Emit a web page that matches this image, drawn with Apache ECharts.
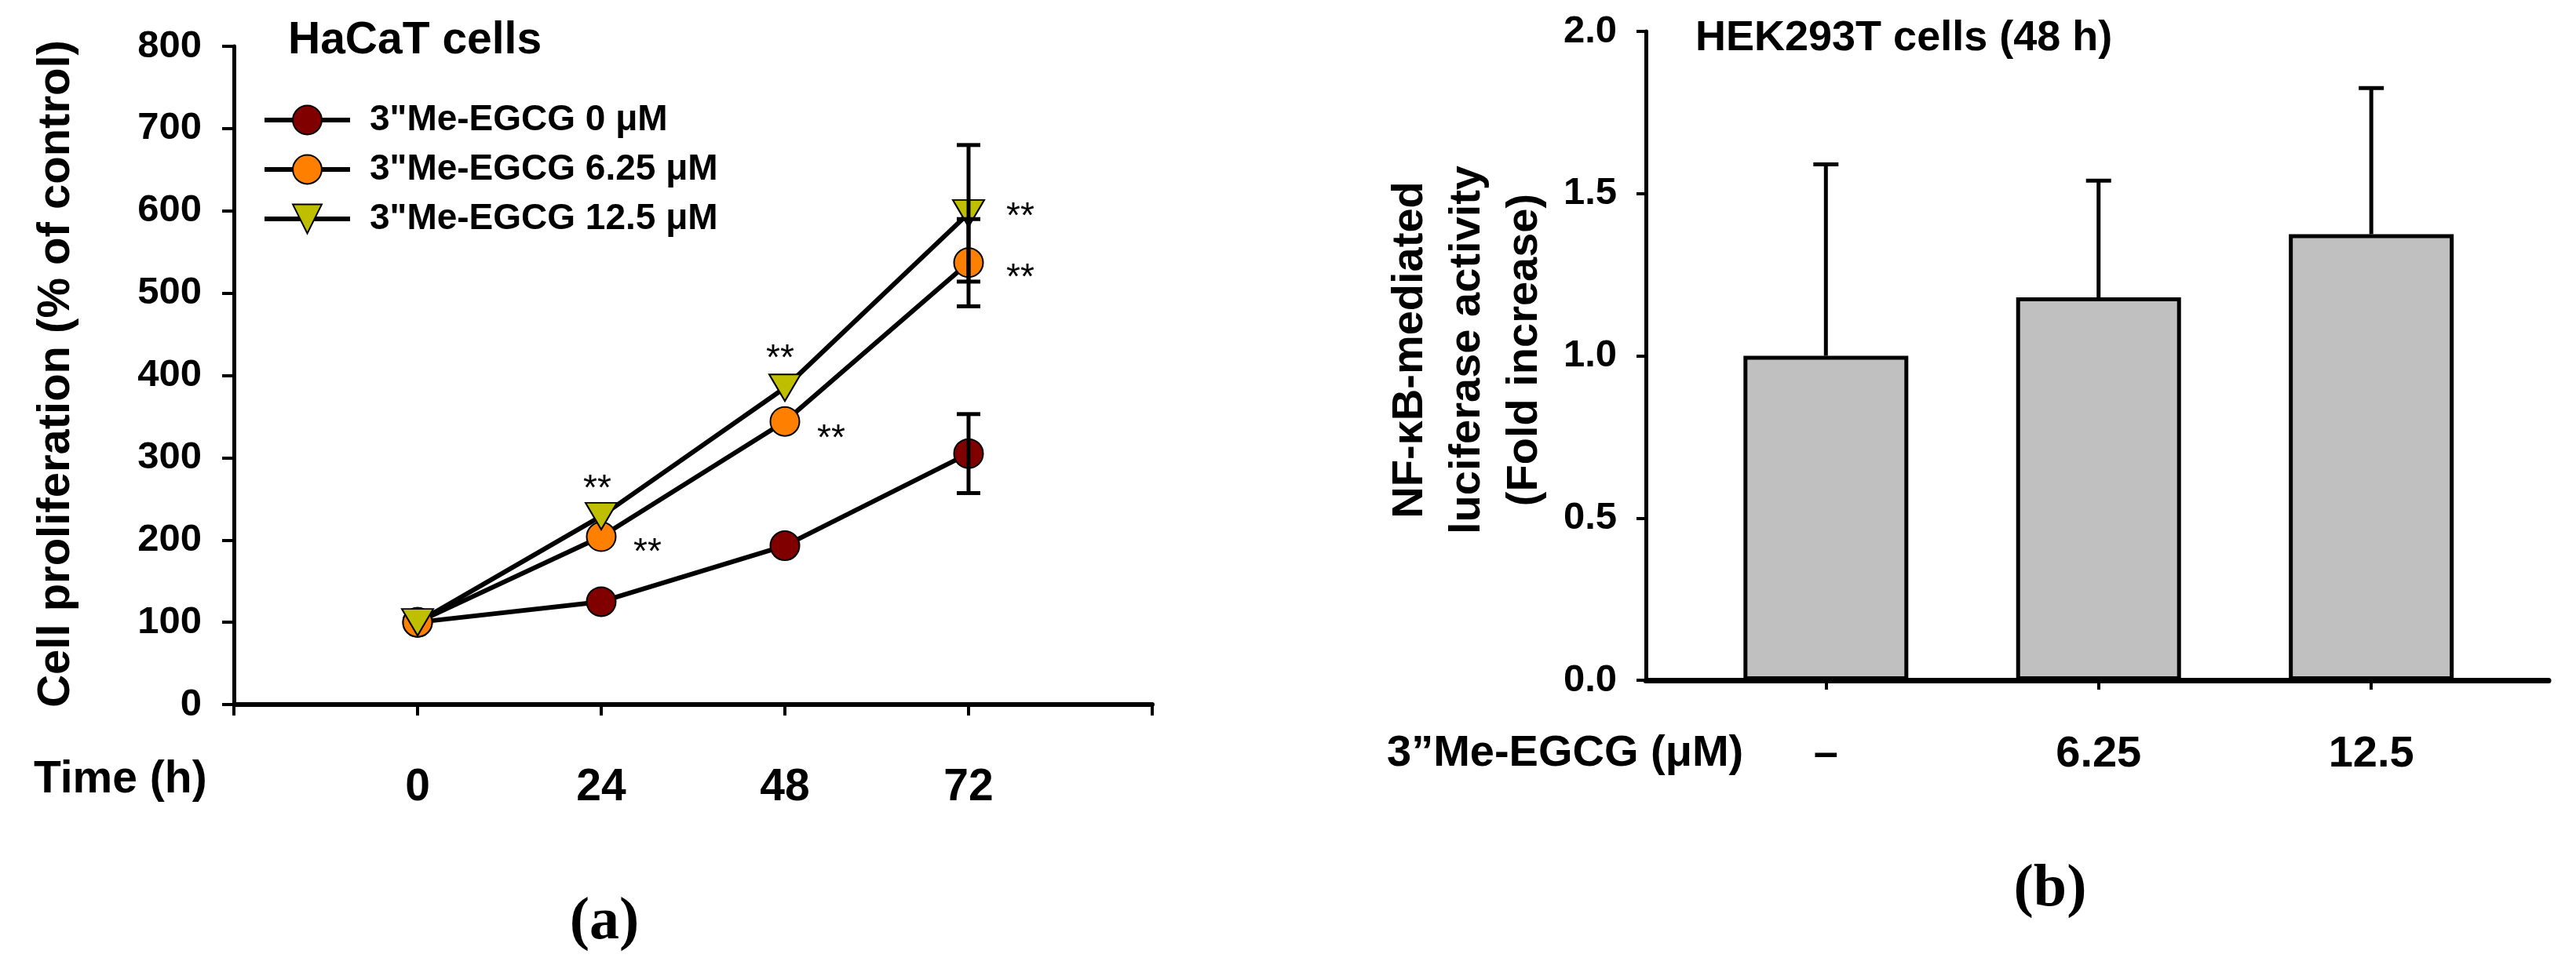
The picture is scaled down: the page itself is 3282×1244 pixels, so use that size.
<!DOCTYPE html>
<html>
<head>
<meta charset="utf-8">
<script src="https://cdn.jsdelivr.net/npm/echarts@6/dist/echarts.min.js"></script>
<style>
html, body { margin: 0; padding: 0; background: #fff; }
#main { width: 3282px; height: 1244px; }
</style>
</head>
<body>
<div id="main"></div>
<script>
// (a) HaCaT cell proliferation
var hours = [0, 24, 48, 72];
var timeLabels = ['0', '24', '48', '72'];
var seriesNames = ['3"Me-EGCG 0 μM', '3"Me-EGCG 6.25 μM', '3"Me-EGCG 12.5 μM'];
var prolif0 = [100, 125, 193, 305];
var prolif625 = [100, 204, 344, 537];
var prolif125 = [100, 229, 385, 597];
var err0 = [0, 0, 0, 48];
var err625 = [0, 0, 0, 53];
var err125 = [0, 0, 0, 83];
var sig0 = ['', '', '', ''];
var sig625 = ['', '**', '**', '**'];
var sig125 = ['', '**', '**', '**'];

// (b) HEK293T NF-kB luciferase
var doses = ['–', '6.25', '12.5'];
var foldMean = [1.00, 1.18, 1.375];
var foldErr = [0.59, 0.36, 0.45];

// where the ** sit relative to their point (px)
var sigOffset = [
    [[0, 0], [0, 0], [0, 0], [0, 0]],
    [[0, 0], [59, 21], [59, 23], [66, 20]],
    [[0, 0], [-5, -34], [-6, -36], [66, 5]]
];

var font = 'Liberation Sans, Arial, Helvetica, sans-serif';
var serif = 'Liberation Serif, Times New Roman, serif';
var colors = ['#800000', '#ff8000', '#bfbf00'];
var symbols = ['circle', 'circle', 'path://M0,0L10,0L5,10Z'];
var symbolSizes = [37, 37, [40, 34]];

var myChart = echarts.init(document.getElementById('main'), null, { renderer: 'canvas' });

function lineData(values, sig, k) {
    return values.map(function (v, i) {
        var item = { value: [hours[i], v] };
        if (sig[i]) {
            item.label = {
                show: true,
                formatter: sig[i],
                position: 'inside',
                offset: sigOffset[k][i],
                fontSize: 46,
                fontFamily: font,
                color: '#000'
            };
        }
        return item;
    });
}

var means = [prolif0, prolif625, prolif125];
var errs = [err0, err625, err125];
var sigs = [sig0, sig625, sig125];

var errDataA = [];
means.forEach(function (m, k) {
    m.forEach(function (v, i) {
        if (errs[k][i] > 0) errDataA.push([hours[i], v, errs[k][i]]);
    });
});

function renderErrA(params, api) {
    var x = api.value(0), y = api.value(1), e = api.value(2);
    var hi = api.coord([x, y + e]);
    var lo = api.coord([x, y - e]);
    var st = { stroke: '#000', lineWidth: 5 };
    return {
        type: 'group',
        children: [
            { type: 'line', shape: { x1: hi[0], y1: hi[1], x2: lo[0], y2: lo[1] }, style: st },
            { type: 'line', shape: { x1: hi[0] - 15, y1: hi[1], x2: hi[0] + 15, y2: hi[1] }, style: st },
            { type: 'line', shape: { x1: lo[0] - 15, y1: lo[1], x2: lo[0] + 15, y2: lo[1] }, style: st }
        ]
    };
}

function renderErrB(params, api) {
    var x = api.value(0), y = api.value(1), e = api.value(2);
    var top = api.coord([x, y]);
    var hi = api.coord([x, y + e]);
    var st = { stroke: '#000', lineWidth: 5 };
    return {
        type: 'group',
        children: [
            { type: 'line', shape: { x1: hi[0], y1: hi[1], x2: top[0], y2: top[1] }, style: st },
            { type: 'line', shape: { x1: hi[0] - 16, y1: hi[1], x2: hi[0] + 16, y2: hi[1] }, style: st }
        ]
    };
}

var lineSeries = means.map(function (m, k) {
    return {
        name: seriesNames[k],
        type: 'line',
        xAxisIndex: 0,
        yAxisIndex: 0,
        data: lineData(m, sigs[k], k),
        symbol: symbols[k],
        symbolSize: symbolSizes[k],
        showSymbol: true,
        z: 2,
        lineStyle: { color: '#000', width: 6 },
        itemStyle: { color: colors[k], borderColor: '#000', borderWidth: 2 },
        emphasis: { disabled: true },
        animation: false
    };
});

option = {
    backgroundColor: '#fff',
    animation: false,
    title: [{
        text: 'HaCaT cells', left: 367, top: 24, padding: 0,
        textStyle: { fontFamily: font, fontSize: 57, fontWeight: 'bold', color: '#000', lineHeight: 57 }
    }, {
        text: 'HEK293T cells (48 h)', left: 2160, top: 22, padding: 0,
        textStyle: { fontFamily: font, fontSize: 54, fontWeight: 'bold', color: '#000', lineHeight: 54 }
    }, {
        text: 'Time (h)', left: 43, top: 966, padding: 0,
        textStyle: { fontFamily: font, fontSize: 57, fontWeight: 'bold', color: '#000', lineHeight: 57 }
    }, {
        text: '3”Me-EGCG (μM)', left: 1767, top: 933, padding: 0,
        textStyle: { fontFamily: font, fontSize: 56, fontWeight: 'bold', color: '#000', lineHeight: 56 }
    }, {
        text: '{p|(}{b|a}{p|)}', left: 770, top: 1138, padding: 0, textAlign: 'center',
        textStyle: {
            rich: {
                p: { fontFamily: serif, fontSize: 76, color: '#000', lineHeight: 76 },
                b: { fontFamily: serif, fontSize: 76, fontWeight: 'bold', color: '#000', lineHeight: 76 }
            }
        }
    }, {
        text: '{p|(}{b|b}{p|)}', left: 2612, top: 1096, padding: 0, textAlign: 'center',
        textStyle: {
            rich: {
                p: { fontFamily: serif, fontSize: 76, color: '#000', lineHeight: 76 },
                b: { fontFamily: serif, fontSize: 76, fontWeight: 'bold', color: '#000', lineHeight: 76 }
            }
        }
    }],
    legend: {
        data: seriesNames,
        orient: 'vertical',
        left: 334,
        top: 130,
        padding: 0,
        itemWidth: 109,
        itemHeight: 46,
        itemGap: 17,
        selectedMode: false,
        lineStyle: { color: '#000', width: 6 },
        textStyle: { fontFamily: font, fontSize: 46, fontWeight: 'bold', color: '#000', padding: [0, 0, 0, 20] }
    },
    grid: [
        { left: 298, top: 59, right: 1814, bottom: 346, outerBoundsMode: 'none' },
        { left: 2097, top: 40, right: 35, bottom: 377, outerBoundsMode: 'none' }
    ],
    xAxis: [{
        gridIndex: 0,
        type: 'value',
        min: -24,
        max: 96,
        interval: 24,
        axisLine: { show: true, onZero: false, lineStyle: { color: '#000', width: 6 } },
        axisTick: { show: true, inside: false, length: 14, lineStyle: { color: '#000', width: 4 } },
        axisLabel: {
            margin: 78, fontSize: 57, fontWeight: 'bold', color: '#000', fontFamily: font, lineHeight: 57,
            formatter: function (v) {
                var i = hours.indexOf(v);
                return i < 0 ? '' : timeLabels[i];
            }
        },
        splitLine: { show: false }
    }, {
        gridIndex: 1,
        type: 'value',
        min: 0.34,
        max: 3.65,
        axisLine: { show: true, onZero: false, lineStyle: { color: '#000', width: 7 } },
        axisTick: { show: true, inside: false, length: 12, customValues: [1, 2, 3], lineStyle: { color: '#000', width: 4 } },
        axisLabel: {
            customValues: [1, 2, 3],
            margin: 67, fontSize: 56, fontWeight: 'bold', color: '#000', fontFamily: font, lineHeight: 56,
            formatter: function (v) {
                return doses[Math.round(v) - 1] || '';
            }
        },
        splitLine: { show: false }
    }],
    yAxis: [{
        gridIndex: 0,
        type: 'value',
        min: 0,
        max: 800,
        interval: 100,
        name: 'Cell proliferation (% of control)',
        nameLocation: 'middle',
        nameRotate: 90,
        nameGap: 191,
        nameMoveOverlap: false,
        nameTextStyle: { fontFamily: font, fontSize: 58, fontWeight: 'bold', color: '#000', lineHeight: 70, padding: [0, 0, 0, 4] },
        axisLine: { show: true, onZero: false, lineStyle: { color: '#000', width: 5 } },
        axisTick: { show: true, inside: false, length: 15, lineStyle: { color: '#000', width: 4 } },
        axisLabel: { margin: 41, fontSize: 49, fontWeight: 'bold', color: '#000', fontFamily: font },
        splitLine: { show: false }
    }, {
        gridIndex: 1,
        type: 'value',
        min: 0,
        max: 2,
        interval: 0.5,
        name: 'NF-κB-mediated\nluciferase activity\n(Fold increase)',
        nameLocation: 'middle',
        nameRotate: 90,
        nameGap: 118,
        nameMoveOverlap: false,
        nameTextStyle: { fontFamily: font, fontSize: 56, fontWeight: 'bold', color: '#000', lineHeight: 73, align: 'center', padding: [0, 0, 0, 15] },
        axisLine: { show: true, onZero: false, lineStyle: { color: '#000', width: 5 } },
        axisTick: { show: true, inside: false, length: 12, lineStyle: { color: '#000', width: 4 } },
        axisLabel: {
            margin: 37, fontSize: 49, fontWeight: 'bold', color: '#000', fontFamily: font,
            formatter: function (v) { return v.toFixed(1); }
        },
        splitLine: { show: false }
    }],
    series: lineSeries.concat([{
        type: 'custom',
        xAxisIndex: 0,
        yAxisIndex: 0,
        z: 3,
        renderItem: renderErrA,
        data: errDataA,
        silent: true
    }, {
        type: 'bar',
        xAxisIndex: 1,
        yAxisIndex: 1,
        barWidth: 210,
        data: foldMean.map(function (v, i) { return [i + 1, v]; }),
        itemStyle: { color: '#c0c0c0', borderColor: '#000', borderWidth: 5 },
        emphasis: { disabled: true },
        z: 2
    }, {
        type: 'custom',
        xAxisIndex: 1,
        yAxisIndex: 1,
        z: 3,
        renderItem: renderErrB,
        data: foldMean.map(function (v, i) { return [i + 1, v, foldErr[i]]; }),
        silent: true
    }])
};

myChart.setOption(option);
</script>
</body>
</html>
